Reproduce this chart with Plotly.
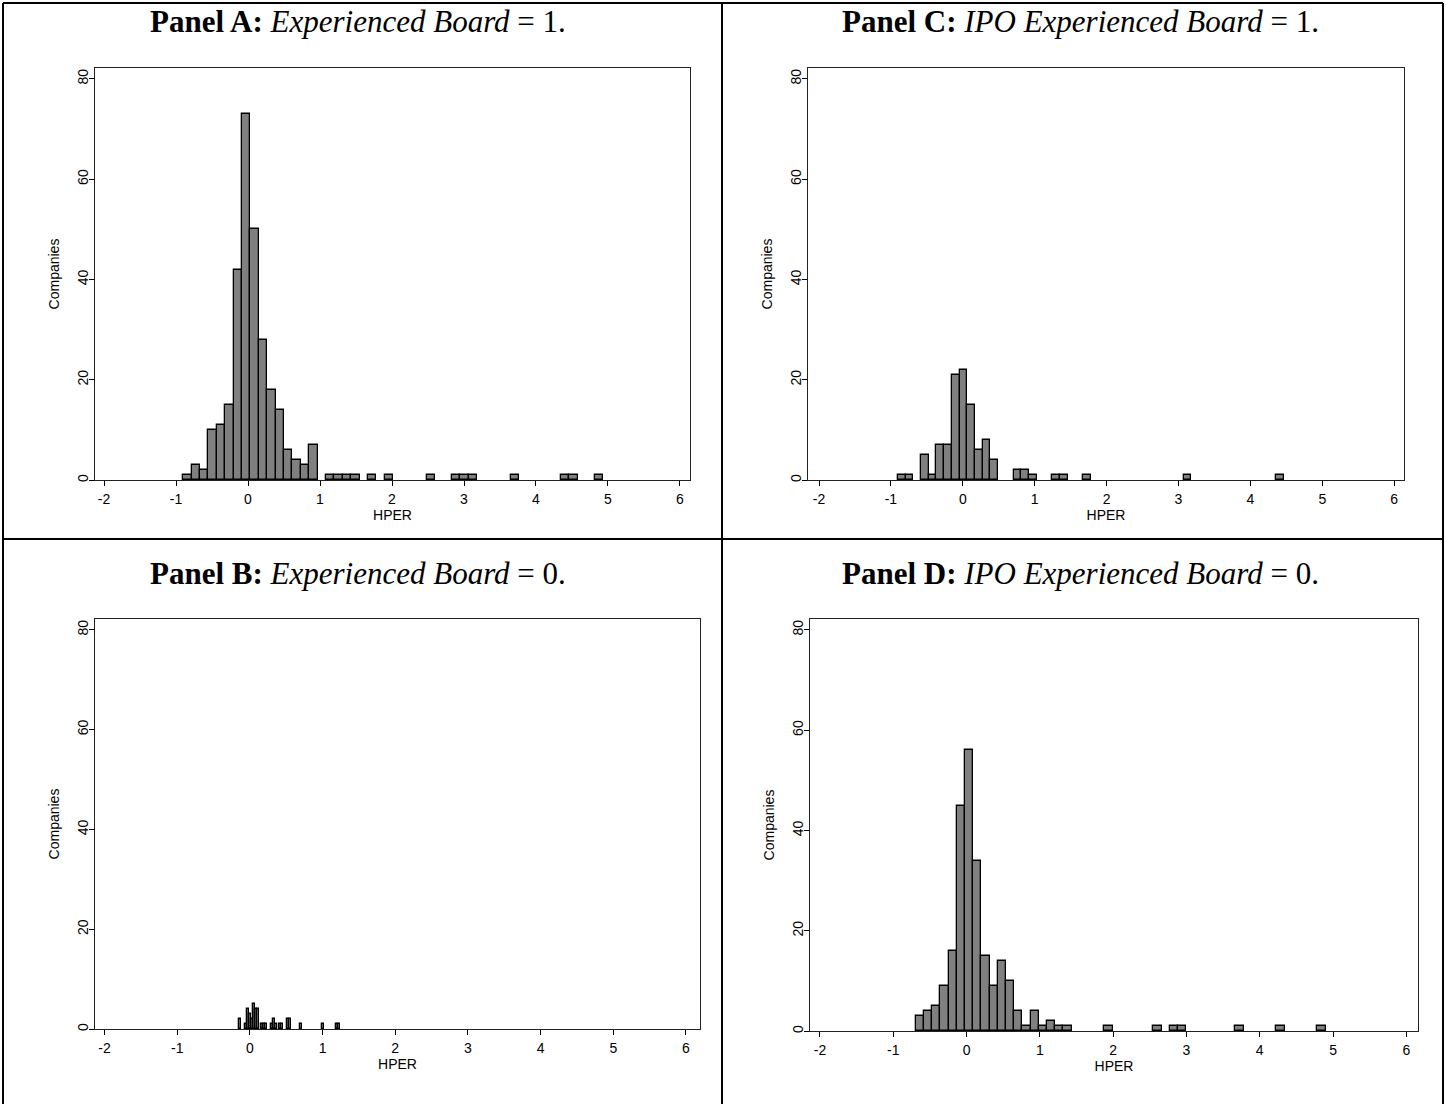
import plotly.graph_objects as go

# ---------------- data ----------------
# Histogram counts (50 bins each), bin start and bin width per panel
a_start, a_width = -0.900, 0.1166
a_counts = [1, 3, 2, 10, 11, 15, 42, 73, 50, 28,
            18, 14, 6, 4, 3, 7, 0, 1, 1, 1,
            1, 0, 1, 0, 1, 0, 0, 0, 0, 1,
            0, 0, 1, 1, 1, 0, 0, 0, 0, 1,
            0, 0, 0, 0, 0, 1, 1, 0, 0, 1]

b_start, b_width = -0.154, 0.0279
b_counts = [2, 0, 0, 1, 4, 3, 2, 5, 4, 4,
            0, 1, 1, 1, 0, 0, 1, 2, 1, 0,
            1, 1, 0, 0, 2, 2, 0, 0, 0, 0,
            1, 0, 0, 0, 0, 0, 0, 0, 0, 0,
            0, 1, 0, 0, 0, 0, 0, 0, 1, 1]

c_start, c_width = -0.904, 0.1074
c_counts = [1, 1, 0, 5, 1, 7, 7, 21, 22, 15,
            6, 8, 4, 0, 0, 2, 2, 1, 0, 0,
            1, 1, 0, 0, 1, 0, 0, 0, 0, 0,
            0, 0, 0, 0, 0, 0, 0, 1, 0, 0,
            0, 0, 0, 0, 0, 0, 0, 0, 0, 1]

d_start, d_width = -0.692, 0.1118
d_counts = [3, 4, 5, 9, 16, 45, 56, 34, 15, 9,
            14, 10, 4, 1, 4, 1, 2, 1, 1, 0,
            0, 0, 0, 1, 0, 0, 0, 0, 0, 1,
            0, 1, 1, 0, 0, 0, 0, 0, 0, 1,
            0, 0, 0, 0, 1, 0, 0, 0, 0, 1]

x_ticks = [-2, -1, 0, 1, 2, 3, 4, 5, 6]
y_ticks = [0, 20, 40, 60, 80]
x_label = "HPER"
y_label = "Companies"

titles = [
    "<b>Panel A:</b> <i>Experienced Board</i> = 1.",
    "<b>Panel B:</b> <i>Experienced Board</i> = 0.",
    "<b>Panel C:</b> <i>IPO Experienced Board</i> = 1.",
    "<b>Panel D:</b> <i>IPO Experienced Board</i> = 0.",
]

# ---------------- layout geometry (pixels) ----------------
W, H = 1446, 1106
panels = [
    ("A", a_start, a_width, a_counts, (95, 690, 68, 481), (-2.125, 6.139)),
    ("B", b_start, b_width, b_counts, (95, 700, 620, 1031), (-2.131, 6.193)),
    ("C", c_start, c_width, c_counts, (808, 1404, 68, 481), (-2.153, 6.136)),
    ("D", d_start, d_width, d_counts, (810, 1418, 620, 1033), (-2.136, 6.159)),
]

fig = go.Figure()

tick_font = dict(family="Liberation Sans, Arial, sans-serif", size=14, color="black")

for k, (name, s, w, counts, box, xr) in enumerate(panels):
    idx = k + 1
    xa = "x" if idx == 1 else f"x{idx}"
    ya = "y" if idx == 1 else f"y{idx}"
    xs = [s + (i + 0.5) * w for i, c in enumerate(counts) if c > 0]
    ys = [c for c in counts if c > 0]
    fig.add_trace(go.Bar(
        x=xs, y=ys, width=w, xaxis=xa, yaxis=ya,
        marker=dict(color="#808080", line=dict(color="black", width=1.3)),
        showlegend=False, hoverinfo="skip",
    ))
    l, r, t, b = box
    xdom = [l / W, r / W]
    ydom = [1 - b / H, 1 - t / H]
    xkey = "xaxis" if idx == 1 else f"xaxis{idx}"
    ykey = "yaxis" if idx == 1 else f"yaxis{idx}"
    fig.update_layout(**{
        xkey: dict(
            domain=xdom, range=list(xr), anchor=ya,
            tickmode="array", tickvals=x_ticks, ticktext=[str(v) for v in x_ticks],
            ticks="outside", ticklen=5, tickwidth=1, tickcolor="black",
            showline=True, linecolor="#222", linewidth=1, mirror=True,
            showgrid=False, zeroline=False, tickfont=tick_font,
            ticklabelstandoff=1,
            title=dict(text=x_label, font=tick_font, standoff=0),
        ),
        ykey: dict(
            domain=ydom, range=[0, 82.2], anchor=xa,
            tickmode="array", tickvals=y_ticks, ticktext=[str(v) for v in y_ticks],
            ticks="outside", ticklen=5, tickwidth=1, tickcolor="black",
            tickangle=-90, ticklabelstandoff=-5,
            showline=True, linecolor="#222", linewidth=1, mirror=True,
            showgrid=False, zeroline=False, tickfont=tick_font,
            title=dict(text=y_label, font=tick_font, standoff=12),
        ),
    })

# titles
title_pos = [(358, 22), (358, 575), (1080, 22), (1080, 575)]
for (cx, cy), ttl in zip(title_pos, titles):
    fig.add_annotation(
        x=cx / W, y=1 - cy / H, xref="paper", yref="paper",
        text=ttl, showarrow=False, xanchor="center", yanchor="middle",
        font=dict(family="Liberation Serif, Times New Roman, serif", size=31, color="black"),
    )

# table borders
lw = 2
def hline(y, x0=3, x1=1443):
    fig.add_shape(type="line", xref="paper", yref="paper",
                  x0=x0 / W, x1=x1 / W, y0=1 - y / H, y1=1 - y / H,
                  line=dict(color="black", width=lw))
def vline(x, y0=3, y1=1106):
    fig.add_shape(type="line", xref="paper", yref="paper",
                  x0=x / W, x1=x / W, y0=1 - y0 / H, y1=1 - y1 / H,
                  line=dict(color="black", width=lw))

hline(3)
hline(540)
vline(3)
vline(722)
vline(1443)

fig.update_layout(
    width=W, height=H, margin=dict(l=0, r=0, t=0, b=0),
    paper_bgcolor="white", plot_bgcolor="white",
    bargap=0,
)

fig.write_html("out.html")
